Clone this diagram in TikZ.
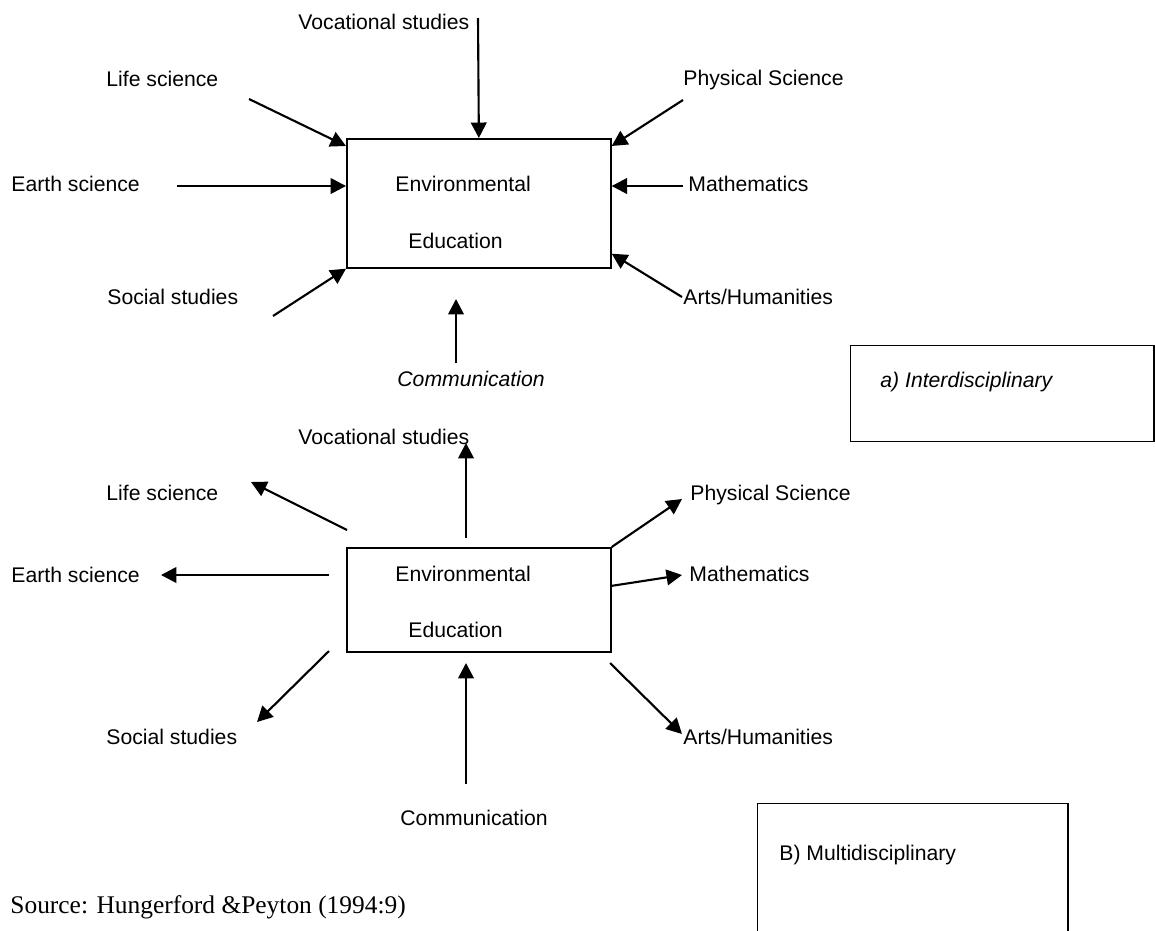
\documentclass[tikz,border=0pt]{standalone}
\usepackage{fontspec}
\setmainfont{Liberation Serif}
\setsansfont{Liberation Sans}
\usepackage{tikz}
\usetikzlibrary{
  calc,
  arrows.meta
  }

\begin{document}
\begin{tikzpicture}[x=0.472pt, y=-0.472pt]
    \def\px{0.472pt}
    \useasboundingbox (0,0) rectangle (1155,930);

    \tikzset{lbl/.style = {font=\sffamily, inner sep=0pt, text height=7.2pt, text depth=0pt, anchor=west},
             eebox/.style = {draw, line width=0.8pt, minimum width=264*\px, inner sep=0pt, anchor=north west},
             capbox/.style = {draw, line width=0.7pt, inner sep=0pt, anchor=north west},
             arr/.style = {line width=1pt, -{Triangle[length=7.3pt,width=7.4pt]}}}

    % a) interdisciplinary
    \node [eebox, minimum height=129*\px] (envA) at (346,138) {};
    \node [lbl] (envAtop) at (395,184) {Environmental};
    \node [lbl] (envAbot) at (408,241) {Education};

    \node [lbl] (vocA) at (298,22) {Vocational studies};
    \node [lbl] (lifeA) at (106,79) {Life science};
    \node [lbl] (earthA) at (11,184) {Earth science};
    \node [lbl] (socA) at (107,297) {Social studies};
    \node [lbl, font=\sffamily\itshape] (commA) at (397,379) {Communication};
    \node [lbl] (physA) at (683,78) {Physical Science};
    \node [lbl] (mathA) at (688,184) {Mathematics};
    \node [lbl] (artsA) at (683,297) {Arts/Humanities};

    \coordinate (vocAs) at (478,18);
    \coordinate (lifeAs) at (249,99);
    \coordinate (earthAs) at (177,186);
    \coordinate (socAs) at (273,316);
    \coordinate (commAs) at (456,363);
    \coordinate (commAe) at (456,299);
    \coordinate (physAs) at (683,100);
    \coordinate (mathAs) at (683,186);
    \coordinate (artsAs) at (682,297);

    \draw [arr] (vocAs) -- (envA.north);
    \draw [arr] (lifeAs) -- ($(envA.north west)+(0,8)$);
    \draw [arr] (earthAs) -- (earthAs -| envA.west);
    \draw [arr] (socAs) -- (envA.south west);
    \draw [arr] (commAs) -- (commAe);
    \draw [arr] (physAs) -- ($(envA.north east)+(0,8)$);
    \draw [arr] (mathAs) -- (mathAs -| envA.east);
    \draw [arr] (artsAs) -- ($(envA.south east)+(0,-15)$);

    \node [capbox, minimum width=303*\px, minimum height=96*\px] (capA) at (850,345) {};
    \node [lbl, font=\sffamily\itshape] (capAtxt) at (880,380) {a) Interdisciplinary};

    % B) multidisciplinary
    \node [eebox, minimum height=104*\px] (envB) at (346,547) {};
    \node [lbl] (envBtop) at (395,574) {Environmental};
    \node [lbl] (envBbot) at (408,630) {Education};

    \node [lbl] (vocB) at (298,437) {Vocational studies};
    \node [lbl] (lifeB) at (106,493) {Life science};
    \node [lbl] (earthB) at (11,575) {Earth science};
    \node [lbl] (socB) at (106,737) {Social studies};
    \node [lbl] (commB) at (400,818) {Communication};
    \node [lbl] (physB) at (690,493) {Physical Science};
    \node [lbl] (mathB) at (689,574) {Mathematics};
    \node [lbl] (artsB) at (683,737) {Arts/Humanities};

    \coordinate (vocBs) at (466,538);
    \coordinate (vocBe) at (466,443);
    \coordinate (lifeBs) at (347,530);
    \coordinate (lifeBe) at (251,482);
    \coordinate (earthBs) at (329,575);
    \coordinate (earthBe) at (161,575);
    \coordinate (socBs) at (329,651);
    \coordinate (socBe) at (257,722);
    \coordinate (commBs) at (466,784);
    \coordinate (commBe) at (466,663);
    \coordinate (physBe) at (682,499);
    \coordinate (mathBe) at (682,575);
    \coordinate (artsBs) at (610,663);
    \coordinate (artsBe) at (682,734);

    \draw [arr] (vocBs) -- (vocBe);
    \draw [arr] (lifeBs) -- (lifeBe);
    \draw [arr] (earthBs) -- (earthBe);
    \draw [arr] (socBs) -- (socBe);
    \draw [arr] (commBs) -- (commBe);
    \draw [arr] (envB.north east) -- (physBe);
    \draw [arr] ($(envB.east)+(0,-14)$) -- (mathBe);
    \draw [arr] (artsBs) -- (artsBe);

    \node [capbox, minimum width=310*\px, minimum height=140*\px] (capB) at (757,803) {};
    \node [lbl] (capBtxt) at (779,853) {B) Multidisciplinary};

    % fonte
    \node [font=\rmfamily\fontsize{12}{14}\selectfont, inner sep=0pt, text height=7.9pt, text depth=0pt, anchor=west] (src) at (10,905) {Source: Hungerford \&Peyton (1994:9)};

\end{tikzpicture}
\end{document}
